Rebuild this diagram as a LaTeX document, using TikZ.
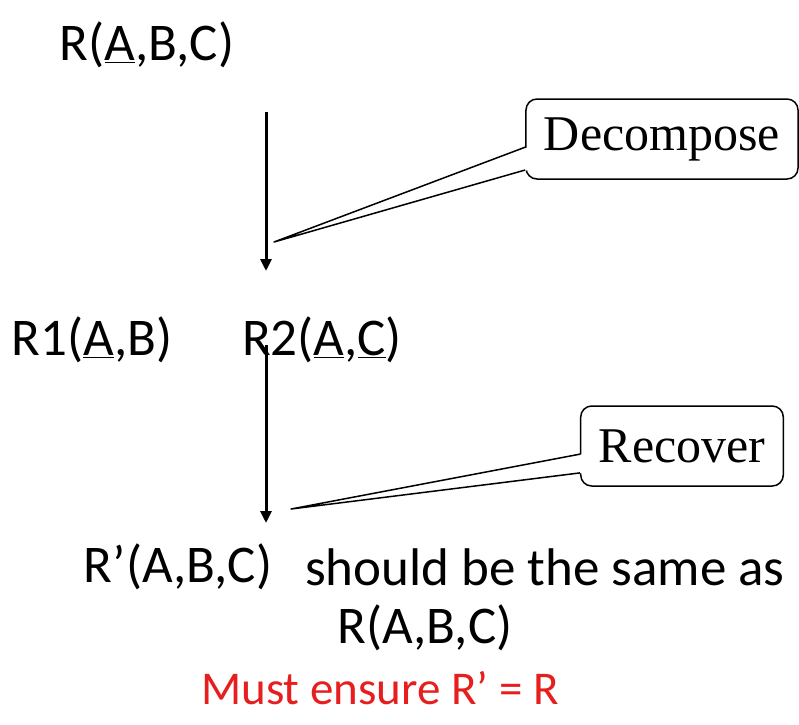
\documentclass[tikz,border=0pt]{standalone}
\usepackage{fontspec}
\setmainfont{Carlito}
\newfontfamily\notefont{Liberation Serif}
\usetikzlibrary{positioning, arrows.meta, calc}
\definecolor{mustred}{RGB}{230,30,30}

\begin{document}
\begin{tikzpicture}[x=1pt, y=-1pt,
    rel/.style={inner sep=0pt, font=\fontsize{53}{62}\selectfont},
    flow/.style={line width=3pt, -{Triangle[length=12pt, width=11pt]}},
    callout/.style={draw, line width=1.5pt, rounded corners=11pt, fill=white,
        inner xsep=18pt, inner ysep=0pt, minimum height=80pt,
        font=\notefont\fontsize{50}{58}\selectfont}]

    \useasboundingbox (0,0) rectangle (799,724);

    % Relations
    \node[rel] (R) at (147,45) {R(\underline{A},B,C)};
    \node[rel] (R1) at (92,340) {R1(\underline{A},B)};
    \node[rel] (R2) at (322,340) {R2(\underline{A},\underline{C})};
    \node[rel] (Rp) at (178,567) {R’(A,B,C)};
    \node[rel, anchor=west] (same) at (305,567) {should be the same as};
    \node[rel] (Rorig) at (425,628) {R(A,B,C)};
    \node[rel, text=mustred, font=\fontsize{47}{55}\selectfont] (must) at (380,688) {Must ensure R’ = R};

    % Arrows
    \coordinate (d1) at (266,112);
    \coordinate (d2) at (266,271);
    \coordinate (r1) at (266,345);
    \coordinate (r2) at (266,523);
    \draw[flow] (d1) -- (d2);
    \draw[flow] (r1) -- (r2);

    % Callouts
    \node[callout] (dec) at (662,139) {Decompose};
    \coordinate (decTip) at (274,242);
    \coordinate (decA) at ($(dec.north west)!0.6!(dec.south west)$);
    \coordinate (decB) at ($(dec.north west)!0.88!(dec.south west)$);
    \fill[white] ($(decA)+(3,0)$) -- (decTip) -- ($(decB)+(3,0)$) -- cycle;
    \draw[line width=1.5pt, line join=round] (decA) -- (decTip) -- (decB);

    \node[callout] (rec) at (682,446) {Recover};
    \coordinate (recTip) at (291,509);
    \coordinate (recA) at ($(rec.north west)!0.6!(rec.south west)$);
    \coordinate (recB) at ($(rec.north west)!0.83!(rec.south west)$);
    \fill[white] ($(recA)+(3,0)$) -- (recTip) -- ($(recB)+(3,0)$) -- cycle;
    \draw[line width=1.5pt, line join=round] (recA) -- (recTip) -- (recB);

\end{tikzpicture}
\end{document}
